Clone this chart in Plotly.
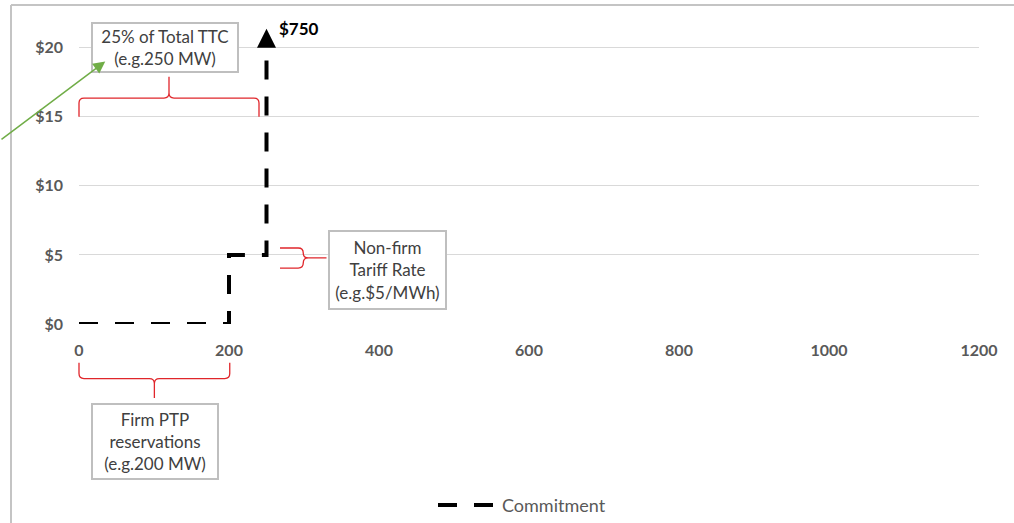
import plotly.graph_objects as go

# Commitment step curve: MW on x, $/MWh on y
commit_mw = [0, 200, 200, 250, 250]
commit_price = [0, 0, 5, 5, 20]
series_name = "Commitment"
off_scale_label = "$750"

x_ticks = [0, 200, 400, 600, 800, 1000, 1200]
y_ticks = [0, 5, 10, 15, 20]
y_tick_text = ["$0", "$5", "$10", "$15", "$20"]

W, H = 1014, 523
ML, MR, MT, MB = 79, 35, 20, 199
X_MAX, Y_MAX = 1200, 22
PLOT_W = W - ML - MR
PLOT_H = H - MT - MB
PX_X = PLOT_W / X_MAX          # pixels per MW
PX_Y = PLOT_H / Y_MAX          # pixels per $

FONT = "Lato"
TXT = "#404040"
AXIS_TXT = "#595959"
RED = "#E0262B"
GREEN = "#70AD47"
BOX = "#BFBFBF"
DASH = "19px,17px"


def dx(v):
    return v / X_MAX


def dy(v):
    return v / Y_MAX


def pt(x, y):
    return f"{dx(x):.5f},{dy(y):.5f}"


def hbrace(x0, x1, base, arm, tip, r_px=5):
    """Curly brace spanning x0..x1; ends at `base`, body at `arm`, point at `tip`."""
    rx = r_px / PX_X
    ry = r_px / PX_Y * (1 if arm > base else -1)
    xm = (x0 + x1) / 2
    return (
        f"M{pt(x0, base)} L{pt(x0, arm - ry)} Q{pt(x0, arm)} {pt(x0 + rx, arm)} "
        f"L{pt(xm - rx, arm)} Q{pt(xm, arm)} {pt(xm, arm + ry)} L{pt(xm, tip)} "
        f"M{pt(xm, arm + ry)} Q{pt(xm, arm)} {pt(xm + rx, arm)} "
        f"L{pt(x1 - rx, arm)} Q{pt(x1, arm)} {pt(x1, arm - ry)} L{pt(x1, base)}"
    )


def vbrace(y0, y1, ym, base, arm, tip, r_px=5):
    """Curly brace spanning y0..y1 (point at ym); ends at x=`base`, body at `arm`, point at `tip`."""
    rx = r_px / PX_X * (1 if arm > base else -1)
    ry = r_px / PX_Y
    return (
        f"M{pt(base, y1)} L{pt(arm - rx, y1)} Q{pt(arm, y1)} {pt(arm, y1 - ry)} "
        f"L{pt(arm, ym + ry)} Q{pt(arm, ym)} {pt(arm + rx, ym)} L{pt(tip, ym)} "
        f"M{pt(arm + rx, ym)} Q{pt(arm, ym)} {pt(arm, ym - ry)} "
        f"L{pt(arm, y0 + ry)} Q{pt(arm, y0)} {pt(arm - rx, y0)} L{pt(base, y0)}"
    )


def px_to_paper(px, py):
    return (px - ML) / PLOT_W, (H - MB - py) / PLOT_H


fig = go.Figure()

fig.add_trace(go.Scatter(
    x=commit_mw, y=commit_price, name=series_name, mode="lines",
    line=dict(color="black", width=4, dash=DASH),
    showlegend=False, hoverinfo="skip",
))

shapes = []

# arrow head at the top of the vertical step (price runs off the scale)
shapes.append(dict(
    type="path", xref="x", yref="y", xsizemode="pixel", ysizemode="pixel",
    xanchor=commit_mw[-1], yanchor=commit_price[-1],
    path="M-9.5,0 L9.5,0 L0,19 Z", fillcolor="black", line=dict(width=0),
))

brace_line = dict(color=RED, width=1.3)
# brace over 0..250 MW
shapes.append(dict(type="path", xref="x domain", yref="y domain",
                   path=hbrace(0, 240, 15.0, 16.35, 17.9), line=brace_line))
# brace under 0..200 MW
shapes.append(dict(type="path", xref="x domain", yref="y domain",
                   path=hbrace(0, 201, -2.8, -3.95, -5.35), line=brace_line))
# brace beside the $5 step
shapes.append(dict(type="path", xref="x domain", yref="y domain",
                   path=vbrace(4.05, 5.5, 4.78, 268, 299, 330), line=brace_line))

# chart frame (top and left edges)
fx0, fy0 = px_to_paper(11, H + 10)
fx1, fy1 = px_to_paper(11, 5)
fx2, _ = px_to_paper(W + 10, 5)
frame = dict(color="#C4C4C4", width=2)
shapes.append(dict(type="line", xref="paper", yref="paper",
                   x0=fx0, y0=fy0, x1=fx1, y1=fy1, line=frame))
shapes.append(dict(type="line", xref="paper", yref="paper",
                   x0=fx1, y0=fy1, x1=fx2, y1=fy1, line=frame))

# legend entry
lx0, ly = px_to_paper(438, 505)
lx1, _ = px_to_paper(494, 505)
shapes.append(dict(type="line", xref="paper", yref="paper",
                   x0=lx0, y0=ly, x1=lx1, y1=ly,
                   line=dict(color="black", width=4, dash=DASH)))

box_font = dict(family=FONT, size=17, color=TXT)
box_style = dict(showarrow=False, bgcolor="white", bordercolor=BOX,
                 borderwidth=2, borderpad=0, font=box_font, align="center",
                 xanchor="center", yanchor="middle")

annotations = [
    dict(x=dx(114.7), y=dy(20), xref="x domain", yref="y domain",
         text="25% of Total TTC<br>(e.g.250 MW)", width=144, height=47, **box_style),
    dict(x=dx(411), y=dy(3.9), xref="x domain", yref="y domain",
         text="Non-firm<br>Tariff Rate<br>(e.g.$5/MWh)", width=115, height=76, **box_style),
    dict(x=dx(101), y=dy(-8.5), xref="x domain", yref="y domain",
         text="Firm PTP<br>reservations<br>(e.g.200 MW)", width=124, height=73, **box_style),
    # green pointer into the 25% box
    dict(x=35, y=19, xref="x", yref="y", text="", showarrow=True,
         ax=-130, ay=79, axref="pixel", ayref="pixel",
         arrowhead=2, arrowsize=1.6, arrowwidth=1.5, arrowcolor=GREEN, standoff=0),
    # off-scale value of the final step
    dict(x=commit_mw[-1], y=21.35, xref="x", yref="y", text=f"<b>{off_scale_label}</b>",
         showarrow=False, xanchor="left", xshift=10,
         font=dict(family=FONT, size=17, color="black")),
    # legend text
    dict(x=px_to_paper(500, 505)[0], y=ly, xref="paper", yref="paper",
         text=series_name, showarrow=False, xanchor="left", yanchor="middle",
         font=dict(family=FONT, size=18, color=AXIS_TXT)),
]

fig.update_layout(
    width=W, height=H,
    margin=dict(l=ML, r=MR, t=MT, b=MB),
    paper_bgcolor="white", plot_bgcolor="white",
    showlegend=False,
    shapes=shapes, annotations=annotations,
    xaxis=dict(range=[0, X_MAX], tickvals=x_ticks, showgrid=False, zeroline=False,
               showline=False, ticks="", ticklabelstandoff=15,
               tickfont=dict(family=FONT, size=16, color=AXIS_TXT, weight="bold")),
    yaxis=dict(range=[0, Y_MAX], tickvals=y_ticks, ticktext=y_tick_text,
               showgrid=True, gridcolor="#D9D9D9", gridwidth=1.3, zeroline=False,
               showline=False, ticks="", ticklabelstandoff=15,
               tickfont=dict(family=FONT, size=16, color=AXIS_TXT, weight="bold")),
)

fig.write_html("out.html")
